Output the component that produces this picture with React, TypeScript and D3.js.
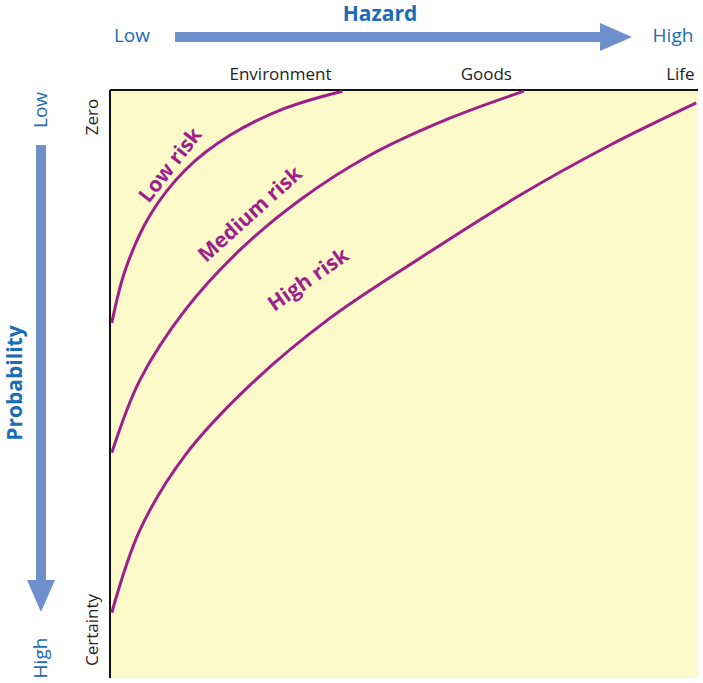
import React from 'react';
import * as d3 from 'd3';

// hazard (0 = low, 100 = high) vs probability (0 = zero, 100 = certainty)
const lowRisk: [number, number][] = [[0.3, 39.6], [2.6, 30.6], [6.8, 21.3], [12.8, 13.6], [20.4, 7.7], [29.8, 3.1], [39.5, 0.2]];
const mediumRisk: [number, number][] = [[0.3, 61.7], [5.1, 49.3], [12.8, 37.4], [22.1, 27.2], [32.3, 18.7], [44.2, 11.1], [57.8, 4.8], [70.4, 0.2]];
const highRisk: [number, number][] = [[0.3, 88.9], [5.1, 74.8], [12.8, 62.1], [23.8, 50.2], [37.4, 38.8], [52.7, 28.6], [69.7, 17.9], [85, 9.4], [99.7, 2.2]];

const hazardLabels = [
  { label: 'Environment', x: 29 },
  { label: 'Goods', x: 64 },
  { label: 'Life', x: 97 },
];
const riskLabels = [
  { label: 'Low risk', x: 11.2, y: 13.5, angle: -52 },
  { label: 'Medium risk', x: 24.6, y: 22, angle: -42 },
  { label: 'High risk', x: 34.4, y: 33.2, angle: -35 },
];

const BLUE = '#1a6cb5';
const ARROW = '#6f8fcc';
const PURPLE = '#9c1f8c';
const FONT = '"Open Sans", "Noto Sans", sans-serif';

export default function App() {
  const x = d3.scaleLinear().domain([0, 100]).range([110, 698]);
  const y = d3.scaleLinear().domain([0, 100]).range([90, 678]);
  const line = d3.line<[number, number]>().x(d => x(d[0])).y(d => y(d[1])).curve(d3.curveCatmullRom.alpha(0.5));

  return (
    <svg width={703} height={683} style={{ position: 'absolute', left: 0, top: 0, fontFamily: FONT }}>
      <rect x={x(0)} y={y(0)} width={x(100) - x(0)} height={y(100) - y(0)} fill="#fdf9c9" />
      <line x1={x(0)} y1={y(0)} x2={x(100)} y2={y(0)} stroke="#111" strokeWidth={2} />
      <line x1={x(0)} y1={y(0)} x2={x(0)} y2={y(100)} stroke="#111" strokeWidth={2} />

      {[lowRisk, mediumRisk, highRisk].map((d, i) => (
        <path key={i} d={line(d) || ''} fill="none" stroke={PURPLE} strokeWidth={3} />
      ))}
      {riskLabels.map(r => (
        <text key={r.label} transform={`translate(${x(r.x)},${y(r.y)}) rotate(${r.angle})`}
          textAnchor="middle" fontSize={21} fontWeight="bold" fill={PURPLE}>{r.label}</text>
      ))}

      {hazardLabels.map(h => (
        <text key={h.label} x={x(h.x)} y={80} textAnchor="middle" fontSize={17} fill="#222">{h.label}</text>
      ))}
      <text transform="translate(98,117) rotate(-90)" textAnchor="middle" fontSize={17} fill="#222">Zero</text>
      <text transform="translate(98,630) rotate(-90)" textAnchor="middle" fontSize={17} fill="#222">Certainty</text>

      {/* Hazard arrow */}
      <line x1={175} y1={37} x2={605} y2={37} stroke={ARROW} strokeWidth={10} />
      <polygon points="600,23 632,37 600,51" fill={ARROW} />
      <text x={132} y={42} textAnchor="middle" fontSize={19} fill={BLUE}>Low</text>
      <text x={380} y={21} textAnchor="middle" fontSize={21} fontWeight="bold" fill={BLUE}>Hazard</text>
      <text x={673} y={42} textAnchor="middle" fontSize={19} fill={BLUE}>High</text>

      {/* Probability arrow */}
      <line x1={41} y1={145} x2={41} y2={585} stroke={ARROW} strokeWidth={10} />
      <polygon points="27,580 41,612 55,580" fill={ARROW} />
      <text transform="translate(47,110) rotate(-90)" textAnchor="middle" fontSize={19} fill={BLUE}>Low</text>
      <text transform="translate(47,658) rotate(-90)" textAnchor="middle" fontSize={19} fill={BLUE}>High</text>
      <text transform="translate(22,383) rotate(-90)" textAnchor="middle" fontSize={21} fontWeight="bold" fill={BLUE}>Probability</text>
    </svg>
  );
}
